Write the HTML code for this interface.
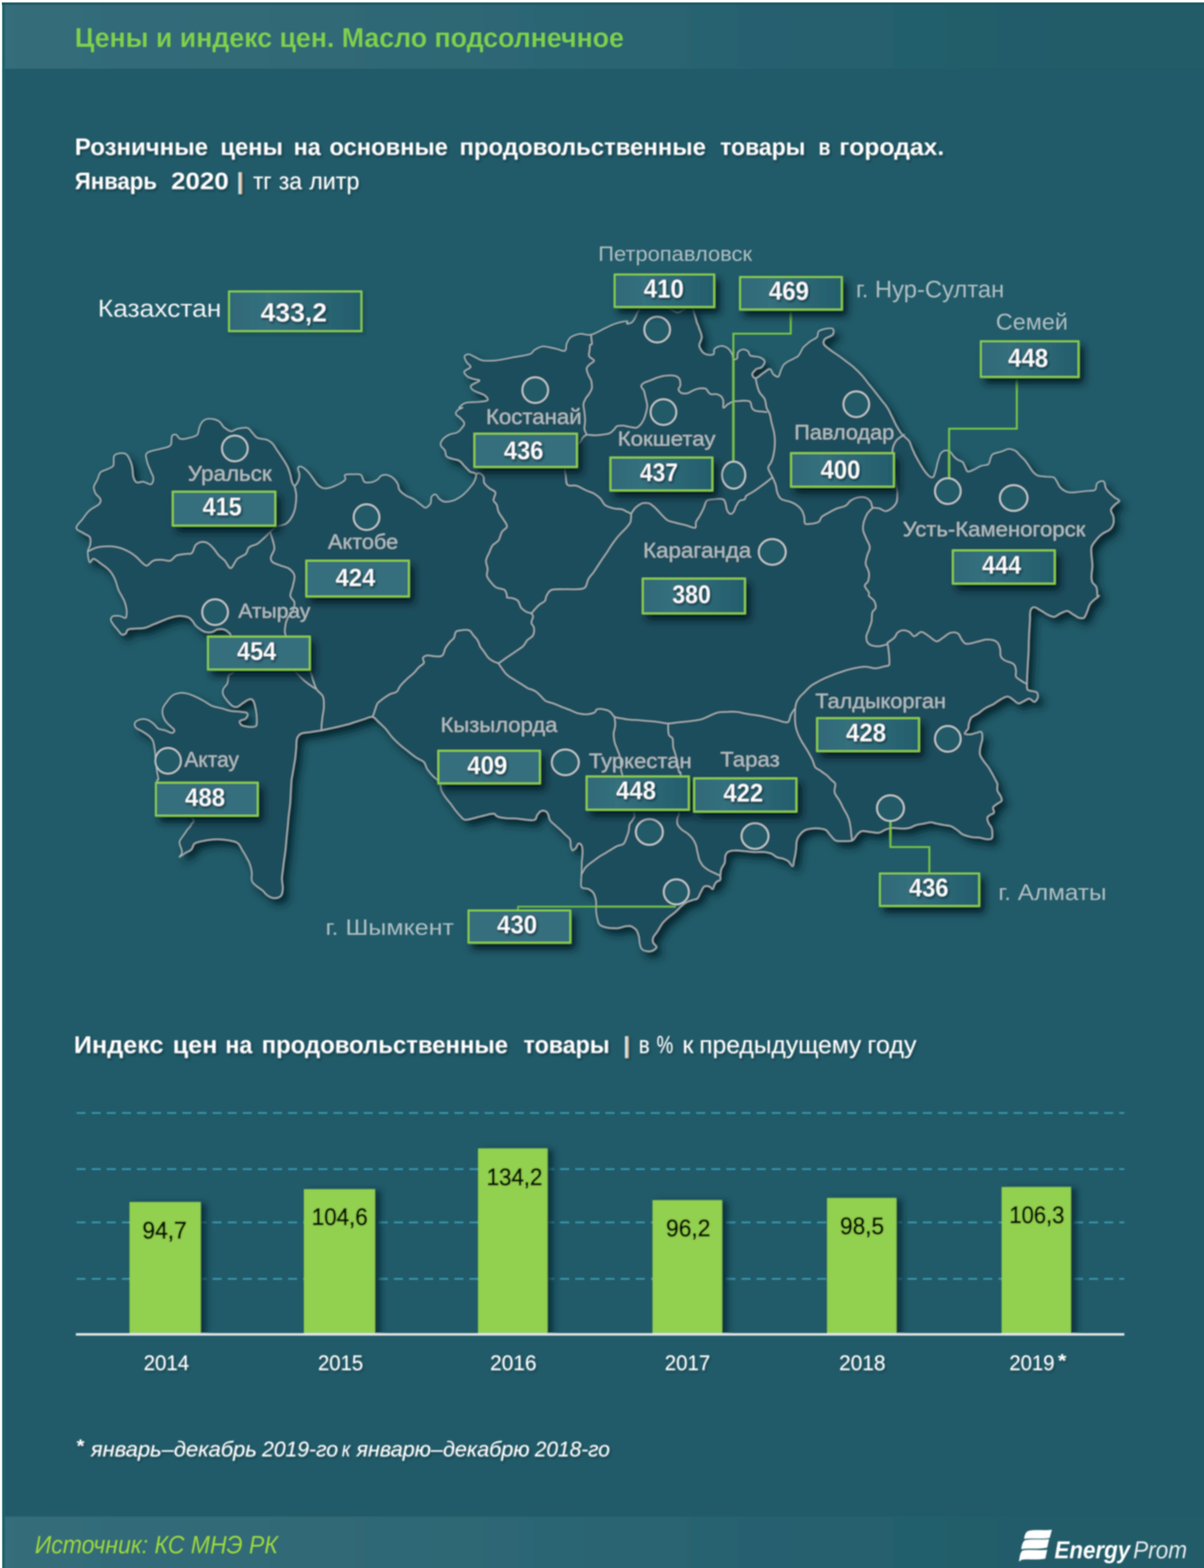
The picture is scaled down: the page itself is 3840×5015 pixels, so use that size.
<!DOCTYPE html>
<html lang="ru"><head><meta charset="utf-8">
<title>Цены и индекс цен. Масло подсолнечное</title>
<style>
html,body{margin:0;padding:0;background:#fff;}
body{width:3840px;height:5015px;overflow:hidden;}
svg{display:block;font-family:"Liberation Sans",sans-serif;}
.lbl{fill:#cfd8da;}
</style></head><body>
<svg width="3840" height="5015" viewBox="0 0 3840 5015">
<defs>
<linearGradient id="band" x1="0" y1="0" x2="1" y2="0">
<stop offset="0" stop-color="#356d7b"/><stop offset="0.35" stop-color="#2f6876"/><stop offset="0.6" stop-color="#286270"/><stop offset="0.9" stop-color="#215b69"/><stop offset="1" stop-color="#215b69"/>
</linearGradient>
<linearGradient id="boxg" x1="0" y1="0" x2="1" y2="0">
<stop offset="0" stop-color="#2f6a78"/><stop offset="0.3" stop-color="#346f7d"/><stop offset="1" stop-color="#235e6c"/>
</linearGradient>
<linearGradient id="bar2" x1="0" y1="0" x2="1" y2="0"><stop offset="0" stop-color="#a8dcf0"/><stop offset="0.5" stop-color="#e8e0d8"/><stop offset="1" stop-color="#d39a66"/></linearGradient>
<linearGradient id="edgeT" x1="0" y1="0" x2="0" y2="1">
<stop offset="0" stop-color="#fff"/><stop offset="0.28" stop-color="#fff"/><stop offset="0.5" stop-color="#1a5560" stop-opacity="0.9"/><stop offset="0.68" stop-color="#1a5560" stop-opacity="0.8"/><stop offset="0.9" stop-color="#1a5560" stop-opacity="0"/>
</linearGradient>
<linearGradient id="edgeL" x1="0" y1="0" x2="1" y2="0">
<stop offset="0" stop-color="#fff"/><stop offset="0.25" stop-color="#fff"/><stop offset="0.45" stop-color="#1c636b" stop-opacity="0.9"/><stop offset="0.7" stop-color="#1c636b" stop-opacity="0.85"/><stop offset="0.9" stop-color="#1c636b" stop-opacity="0"/>
</linearGradient>
<radialGradient id="bgg" cx="0.5" cy="0.45" r="0.6">
<stop offset="0" stop-color="#235f6e"/><stop offset="1" stop-color="#215b69"/>
</radialGradient>
<filter id="mapsh" x="-5%" y="-5%" width="112%" height="112%">
<feGaussianBlur in="SourceAlpha" stdDeviation="13"/><feOffset dx="16" dy="18" result="o"/>
<feFlood flood-color="#082029" flood-opacity="0.9"/><feComposite in2="o" operator="in"/>
<feMerge><feMergeNode/><feMergeNode in="SourceGraphic"/></feMerge>
</filter>
<filter id="boxsh" x="-15%" y="-40%" width="140%" height="220%">
<feGaussianBlur in="SourceAlpha" stdDeviation="12"/><feOffset dx="14" dy="18" result="o"/>
<feFlood flood-color="#061a24" flood-opacity="0.95"/><feComposite in2="o" operator="in"/>
<feMerge><feMergeNode/><feMergeNode in="SourceGraphic"/></feMerge>
</filter>
<filter id="boxsh0" x="-10%" y="-20%" width="125%" height="160%">
<feGaussianBlur in="SourceAlpha" stdDeviation="6"/><feOffset dx="5" dy="6" result="o"/>
<feFlood flood-color="#0a2530" flood-opacity="0.45"/><feComposite in2="o" operator="in"/>
<feMerge><feMergeNode/><feMergeNode in="SourceGraphic"/></feMerge>
</filter>
<filter id="barsh" x="-10%" y="-5%" width="140%" height="110%">
<feGaussianBlur in="SourceAlpha" stdDeviation="10"/><feOffset dx="18" dy="4" result="o"/>
<feFlood flood-color="#0a2530" flood-opacity="0.75"/><feComposite in2="o" operator="in"/>
<feMerge><feMergeNode/><feMergeNode in="SourceGraphic"/></feMerge>
</filter>
<filter id="txsh" x="-5%" y="-30%" width="110%" height="170%">
<feGaussianBlur in="SourceAlpha" stdDeviation="3"/><feOffset dx="4" dy="5" result="o"/>
<feFlood flood-color="#0a2530" flood-opacity="0.6"/><feComposite in2="o" operator="in"/>
<feMerge><feMergeNode/><feMergeNode in="SourceGraphic"/></feMerge>
</filter>
<clipPath id="barclip"><rect x="0" y="3400" width="3840" height="856"/></clipPath>
<filter id="soft" x="-3%" y="-3%" width="106%" height="106%"><feGaussianBlur stdDeviation="2.1"/></filter>
</defs>

<rect x="0" y="0" width="3840" height="5015" fill="#215b69"/>
<rect x="-20" y="-20" width="3880" height="239" fill="url(#band)" filter="url(#soft)"/>
<rect x="-20" y="4836" width="3880" height="199" fill="url(#band)" filter="url(#soft)"/>
<rect x="0" y="6" width="20" height="5015" fill="url(#edgeL)"/>
<rect x="6" y="0" width="3840" height="20" fill="url(#edgeT)"/>
<rect x="0" y="0" width="7" height="7" fill="#fff"/>
<g id="head" filter="url(#soft)">
<text transform="translate(238.6 150.0) scale(0.9705 1)" font-size="87.85" fill="#80d24a" stroke="#316a78" stroke-width="0.8" stroke-linejoin="round" font-weight="bold">Цены и индекс цен. Масло подсолнечное</text>
<g filter="url(#txsh)">
<text transform="translate(238.6 494.0) scale(1.0042 1)" font-size="76.22" fill="#fff" stroke="#215b69" stroke-width="0.8" stroke-linejoin="round" font-weight="bold">Розничные</text>
<text transform="translate(702.6 494.0) scale(0.9967 1)" font-size="76.22" fill="#fff" stroke="#215b69" stroke-width="0.8" stroke-linejoin="round" font-weight="bold">цены</text>
<text transform="translate(936.6 494.0) scale(0.9754 1)" font-size="76.22" fill="#fff" stroke="#215b69" stroke-width="0.8" stroke-linejoin="round" font-weight="bold">на</text>
<text transform="translate(1050.6 494.0) scale(0.9919 1)" font-size="76.22" fill="#fff" stroke="#215b69" stroke-width="0.8" stroke-linejoin="round" font-weight="bold">основные</text>
<text transform="translate(1465.6 494.0) scale(0.9993 1)" font-size="76.22" fill="#fff" stroke="#215b69" stroke-width="0.8" stroke-linejoin="round" font-weight="bold">продовольственные</text>
<text transform="translate(2296.6 494.0) scale(0.9612 1)" font-size="76.22" fill="#fff" stroke="#215b69" stroke-width="0.8" stroke-linejoin="round" font-weight="bold">товары</text>
<text transform="translate(2610.6 494.0) scale(0.8064 1)" font-size="76.22" fill="#fff" stroke="#215b69" stroke-width="0.8" stroke-linejoin="round" font-weight="bold">в</text>
<text transform="translate(2676.6 494.0) scale(1.0342 1)" font-size="76.22" fill="#fff" stroke="#215b69" stroke-width="0.8" stroke-linejoin="round" font-weight="bold">городах.</text>
<text transform="translate(238.6 603.0) scale(0.9271 1)" font-size="76.22" fill="#fff" stroke="#215b69" stroke-width="0.8" stroke-linejoin="round" font-weight="bold">Январь</text>
<text transform="translate(545.6 603.0) scale(1.0838 1)" font-size="76.22" fill="#fff" stroke="#215b69" stroke-width="0.8" stroke-linejoin="round" font-weight="bold">2020</text>
<rect x="760" y="549" width="12" height="70" fill="url(#bar2)"/>
<text transform="translate(807.0 603.0) scale(0.9484 1)" font-size="75.64" fill="#fff">тг</text>
<text transform="translate(889.0 603.0) scale(0.9639 1)" font-size="75.64" fill="#fff">за</text>
<text transform="translate(986.0 603.0) scale(0.9805 1)" font-size="75.64" fill="#fff">литр</text>
</g>
</g>
<g id="mapall" filter="url(#soft)">
<g id="map">
<path d="M243 1683C243 1675 257 1663 264 1654C271 1644 277 1634 286 1627C294 1619 309 1614 315 1608C321 1602 322 1598 320 1592C319 1586 308 1580 304 1573C301 1566 298 1559 299 1552C300 1545 306 1538 310 1530C313 1523 315 1512 320 1506C326 1500 335 1499 342 1496C349 1492 357 1491 361 1485C364 1478 361 1462 363 1455C366 1449 371 1447 377 1446C383 1444 395 1444 401 1447C407 1451 411 1458 414 1466C418 1474 421 1484 422 1493C424 1502 423 1512 425 1520C427 1527 430 1536 436 1538C441 1541 450 1535 457 1536C465 1537 476 1546 481 1544C487 1542 489 1532 489 1525C489 1518 484 1512 481 1504C478 1496 473 1486 470 1477C468 1468 464 1456 465 1450C467 1444 471 1442 479 1439C486 1436 500 1434 511 1431C521 1428 537 1427 543 1420C549 1414 545 1397 548 1391C551 1385 557 1384 562 1386C566 1387 568 1397 575 1399C582 1401 593 1399 602 1396C611 1394 623 1392 629 1386C634 1379 633 1366 637 1359C640 1351 644 1344 650 1340C656 1336 663 1334 671 1335C679 1335 691 1338 698 1343C705 1347 708 1356 714 1362C721 1367 729 1374 736 1375C743 1376 748 1369 757 1367C766 1365 781 1362 789 1364C797 1367 800 1375 805 1380C811 1386 814 1393 821 1396C829 1400 843 1399 851 1402C859 1405 864 1409 870 1415C875 1421 880 1431 886 1439C892 1448 899 1458 904 1466C910 1475 914 1482 918 1490C921 1498 924 1507 926 1514C928 1522 929 1530 931 1536C933 1542 936 1549 939 1549C942 1549 947 1542 950 1536C953 1530 955 1521 955 1514C955 1507 949 1497 950 1493C951 1488 955 1486 961 1488C966 1489 976 1497 982 1504C988 1510 993 1518 998 1525C1004 1532 1008 1541 1014 1546C1021 1552 1027 1557 1036 1557C1045 1558 1057 1554 1068 1549C1079 1545 1095 1536 1100 1530C1105 1525 1096 1517 1100 1514C1104 1511 1118 1512 1127 1512C1135 1512 1145 1510 1151 1514C1157 1518 1157 1532 1162 1536C1167 1540 1174 1539 1180 1538C1187 1538 1196 1534 1202 1530C1208 1527 1210 1520 1215 1517C1221 1514 1227 1513 1234 1514C1241 1516 1250 1520 1255 1525C1261 1530 1266 1538 1269 1544C1272 1550 1270 1557 1274 1562C1278 1568 1285 1574 1293 1579C1300 1584 1312 1587 1320 1592C1328 1597 1335 1604 1341 1608C1347 1612 1352 1619 1357 1619C1362 1618 1370 1611 1373 1605C1376 1600 1373 1589 1376 1584C1379 1579 1385 1575 1389 1576C1394 1577 1397 1588 1403 1592C1408 1596 1414 1600 1421 1600C1429 1600 1439 1598 1448 1595C1457 1591 1467 1585 1475 1579C1483 1572 1493 1562 1499 1554C1505 1547 1509 1543 1512 1536C1516 1529 1520 1517 1518 1512C1516 1506 1505 1508 1499 1504C1493 1499 1486 1491 1480 1485C1475 1479 1471 1472 1464 1469C1458 1465 1450 1466 1443 1463C1436 1461 1428 1460 1424 1455C1420 1451 1422 1442 1419 1437C1416 1431 1407 1426 1405 1420C1404 1415 1406 1408 1411 1402C1415 1396 1424 1390 1432 1386C1440 1382 1452 1382 1459 1378C1466 1374 1471 1367 1475 1362C1479 1357 1482 1353 1480 1348C1479 1343 1471 1337 1467 1332C1463 1328 1455 1325 1454 1321C1452 1317 1455 1312 1459 1308C1462 1304 1474 1301 1475 1300C1476 1299 1463 1303 1464 1300C1466 1297 1475 1287 1486 1284C1496 1281 1517 1283 1529 1281C1540 1280 1553 1279 1555 1276C1558 1272 1552 1265 1545 1260C1537 1255 1520 1251 1512 1246C1505 1242 1499 1236 1502 1230C1504 1225 1527 1218 1529 1214C1530 1211 1519 1211 1512 1209C1506 1207 1496 1205 1491 1201C1486 1197 1479 1190 1480 1185C1482 1180 1499 1175 1501 1170C1502 1166 1492 1161 1488 1155C1485 1150 1480 1141 1481 1137C1482 1132 1489 1129 1494 1129C1499 1129 1505 1133 1512 1137C1520 1140 1528 1147 1539 1149C1551 1151 1566 1150 1582 1149C1598 1147 1618 1143 1636 1139C1654 1136 1678 1133 1689 1129C1701 1125 1698 1119 1705 1115C1713 1111 1720 1105 1732 1104C1744 1104 1763 1110 1775 1112C1787 1115 1796 1121 1802 1118C1807 1115 1804 1104 1807 1096C1810 1089 1813 1080 1820 1075C1828 1070 1839 1066 1850 1064C1861 1063 1871 1070 1885 1067C1898 1064 1917 1052 1930 1046C1944 1039 1956 1033 1968 1030C1980 1026 1995 1024 2000 1024C2005 1025 1997 1032 2000 1032C2003 1033 2012 1030 2016 1027C2021 1023 2023 1017 2027 1011C2030 1004 2033 995 2038 989C2042 984 2042 979 2054 976C2065 973 2094 969 2107 970C2120 972 2125 979 2134 984C2143 988 2153 997 2161 997C2169 998 2176 990 2182 987C2188 983 2194 976 2198 976C2203 975 2206 980 2209 984C2212 988 2212 993 2214 1000C2217 1007 2220 1019 2222 1027C2225 1035 2228 1040 2230 1048C2233 1056 2238 1066 2238 1075C2238 1084 2230 1094 2230 1102C2231 1110 2237 1118 2241 1123C2246 1128 2251 1130 2257 1131C2263 1132 2272 1132 2276 1129C2279 1125 2275 1117 2279 1112C2283 1108 2293 1103 2300 1103C2307 1102 2316 1106 2321 1110C2327 1114 2332 1123 2335 1129C2338 1134 2336 1142 2339 1145C2342 1147 2348 1146 2351 1142C2353 1138 2350 1128 2354 1123C2357 1118 2364 1114 2370 1114C2375 1113 2382 1117 2386 1120C2390 1124 2388 1131 2394 1134C2400 1137 2416 1136 2423 1139C2431 1142 2438 1147 2439 1153C2440 1158 2433 1167 2429 1171C2424 1175 2417 1173 2412 1177C2408 1180 2400 1188 2399 1193C2399 1198 2404 1207 2410 1206C2416 1206 2426 1195 2434 1190C2442 1185 2450 1176 2455 1177C2461 1177 2462 1189 2466 1193C2471 1197 2478 1203 2482 1201C2486 1199 2487 1189 2490 1182C2493 1175 2495 1167 2501 1161C2507 1154 2520 1149 2528 1145C2535 1140 2541 1140 2546 1134C2552 1128 2556 1115 2562 1107C2569 1100 2577 1094 2584 1088C2591 1083 2601 1080 2605 1075C2610 1070 2606 1061 2611 1056C2615 1052 2625 1050 2632 1048C2640 1047 2652 1045 2656 1048C2660 1051 2660 1062 2656 1067C2652 1072 2637 1076 2632 1080C2627 1085 2625 1091 2627 1096C2629 1102 2636 1107 2643 1112C2650 1118 2661 1125 2670 1131C2679 1137 2687 1143 2696 1150C2705 1157 2714 1163 2723 1171C2732 1179 2742 1189 2750 1198C2758 1207 2764 1216 2771 1225C2779 1234 2786 1243 2793 1252C2800 1261 2808 1271 2814 1279C2821 1287 2826 1293 2830 1300C2835 1307 2837 1312 2841 1321C2846 1330 2852 1344 2857 1354C2862 1363 2868 1373 2873 1380C2879 1388 2885 1392 2889 1396C2894 1401 2896 1401 2900 1407C2904 1413 2906 1424 2911 1434C2915 1444 2921 1456 2927 1466C2932 1476 2938 1485 2943 1493C2948 1501 2954 1509 2959 1514C2964 1519 2971 1524 2975 1522C2979 1521 2980 1512 2983 1504C2986 1495 2988 1481 2991 1471C2994 1462 2996 1453 2999 1447C3003 1442 3008 1438 3012 1437C3017 1435 3024 1436 3029 1439C3034 1442 3038 1451 3042 1455C3046 1460 3050 1463 3055 1466C3060 1469 3067 1470 3071 1474C3075 1479 3077 1488 3080 1493C3082 1498 3083 1503 3088 1504C3092 1504 3102 1499 3109 1496C3116 1492 3123 1487 3130 1485C3138 1482 3147 1484 3152 1480C3157 1475 3157 1463 3160 1458C3162 1453 3162 1450 3168 1447C3174 1444 3187 1442 3195 1439C3203 1437 3209 1432 3216 1431C3223 1431 3231 1433 3238 1437C3244 1440 3248 1447 3254 1453C3259 1458 3265 1463 3270 1469C3274 1475 3279 1481 3283 1488C3287 1494 3291 1501 3296 1506C3301 1511 3305 1515 3312 1517C3320 1519 3331 1519 3339 1520C3347 1520 3355 1520 3361 1522C3366 1525 3368 1531 3371 1536C3375 1541 3375 1547 3380 1552C3384 1557 3390 1562 3396 1565C3401 1568 3407 1570 3414 1570C3422 1571 3432 1569 3441 1568C3450 1567 3459 1566 3468 1565C3476 1564 3487 1566 3492 1562C3497 1559 3495 1548 3497 1544C3500 1539 3504 1536 3508 1535C3512 1533 3518 1532 3521 1536C3525 1539 3524 1551 3527 1557C3530 1563 3535 1568 3540 1573C3545 1578 3551 1583 3556 1587C3561 1591 3570 1593 3570 1597C3569 1601 3558 1606 3554 1611C3549 1616 3543 1621 3543 1627C3542 1633 3550 1641 3551 1648C3552 1655 3553 1663 3551 1670C3549 1676 3546 1683 3540 1688C3534 1694 3524 1696 3516 1702C3508 1708 3500 1716 3495 1723C3489 1730 3483 1737 3481 1745C3479 1753 3481 1762 3481 1771C3482 1781 3484 1793 3484 1804C3484 1814 3481 1827 3481 1836C3481 1845 3481 1851 3484 1857C3487 1863 3495 1866 3497 1873C3500 1880 3499 1896 3500 1900C3501 1904 3507 1898 3505 1900C3504 1902 3494 1909 3489 1913C3484 1918 3479 1921 3476 1927C3472 1933 3471 1941 3468 1948C3465 1955 3462 1966 3457 1970C3453 1973 3447 1971 3441 1970C3435 1968 3429 1962 3422 1959C3416 1955 3410 1949 3404 1948C3397 1948 3389 1953 3382 1956C3375 1959 3368 1967 3361 1967C3354 1967 3346 1962 3339 1959C3332 1955 3325 1949 3318 1946C3311 1942 3304 1936 3299 1936C3294 1936 3289 1939 3287 1946C3284 1952 3285 1965 3285 1975C3284 1985 3284 1996 3283 2007C3282 2019 3282 2032 3281 2045C3281 2057 3281 2070 3280 2082C3280 2095 3278 2108 3278 2120C3277 2131 3277 2141 3276 2152C3276 2163 3275 2176 3275 2184C3275 2192 3275 2197 3278 2200C3281 2203 3289 2203 3294 2204C3299 2206 3304 2205 3307 2208C3310 2211 3311 2219 3310 2224C3308 2229 3304 2237 3299 2238C3295 2238 3288 2228 3283 2228C3278 2227 3273 2232 3267 2235C3261 2237 3254 2244 3248 2243C3242 2242 3235 2233 3230 2230C3224 2226 3220 2221 3213 2221C3207 2221 3200 2225 3192 2230C3184 2234 3176 2241 3168 2246C3159 2250 3149 2254 3141 2259C3133 2264 3127 2270 3120 2275C3112 2280 3103 2283 3098 2288C3093 2294 3092 2301 3090 2307C3088 2313 3090 2318 3088 2323C3085 2329 3076 2336 3077 2339C3078 2342 3087 2342 3093 2342C3099 2342 3108 2338 3114 2337C3121 2335 3127 2331 3130 2334C3134 2337 3133 2348 3133 2355C3133 2363 3129 2369 3128 2377C3126 2385 3124 2396 3125 2404C3126 2412 3131 2418 3136 2425C3140 2432 3147 2439 3152 2446C3157 2454 3161 2461 3165 2468C3169 2475 3173 2484 3176 2489C3179 2495 3180 2495 3181 2500C3182 2505 3179 2515 3181 2521C3183 2528 3190 2535 3192 2540C3194 2546 3196 2550 3194 2554C3191 2558 3183 2561 3179 2564C3174 2568 3168 2571 3167 2575C3165 2579 3172 2587 3170 2591C3169 2595 3161 2596 3157 2599C3154 2602 3150 2603 3149 2607C3148 2611 3150 2618 3152 2623C3154 2629 3160 2634 3162 2639C3165 2645 3165 2652 3165 2658C3165 2664 3166 2671 3162 2674C3159 2677 3153 2676 3146 2676C3140 2675 3133 2673 3125 2671C3117 2670 3107 2671 3098 2669C3089 2667 3079 2665 3071 2661C3063 2657 3057 2649 3050 2645C3043 2640 3038 2636 3031 2634C3024 2632 3015 2632 3007 2630C3000 2629 2992 2627 2986 2626C2979 2625 2976 2622 2970 2622C2963 2622 2956 2624 2948 2626C2940 2627 2929 2629 2921 2631C2913 2634 2907 2639 2900 2640C2893 2642 2888 2642 2879 2642C2870 2642 2855 2640 2846 2640C2837 2641 2832 2642 2825 2645C2818 2647 2812 2654 2804 2655C2796 2657 2786 2654 2777 2653C2768 2652 2757 2649 2750 2650C2743 2651 2739 2656 2734 2661C2729 2666 2726 2676 2718 2680C2710 2683 2695 2682 2686 2682C2677 2682 2671 2683 2664 2680C2658 2676 2653 2669 2648 2663C2643 2658 2640 2651 2635 2647C2629 2644 2624 2643 2616 2642C2609 2641 2597 2641 2589 2642C2581 2643 2574 2644 2568 2647C2562 2650 2556 2655 2552 2661C2547 2666 2543 2673 2541 2682C2539 2691 2540 2704 2538 2714C2537 2724 2535 2733 2533 2741C2531 2749 2531 2762 2528 2762C2525 2763 2519 2750 2514 2746C2509 2742 2504 2741 2498 2738C2492 2736 2483 2736 2477 2733C2471 2730 2467 2725 2461 2722C2454 2720 2448 2718 2439 2717C2430 2716 2418 2717 2407 2717C2396 2717 2386 2715 2375 2714C2364 2713 2352 2711 2343 2712C2334 2712 2326 2714 2321 2717C2316 2720 2315 2725 2313 2730C2312 2736 2313 2745 2311 2752C2308 2759 2302 2766 2300 2773C2298 2780 2298 2787 2297 2792C2297 2797 2299 2802 2297 2805C2296 2809 2290 2808 2287 2811C2283 2813 2281 2817 2279 2821C2276 2825 2276 2834 2273 2835C2271 2836 2267 2828 2262 2827C2258 2825 2251 2824 2246 2827C2242 2829 2239 2837 2236 2843C2232 2849 2229 2860 2225 2864C2221 2869 2215 2867 2209 2870C2203 2872 2194 2874 2188 2878C2181 2881 2177 2886 2171 2891C2166 2896 2162 2901 2155 2907C2149 2913 2138 2920 2131 2926C2124 2932 2118 2937 2112 2945C2107 2952 2101 2964 2096 2971C2091 2979 2085 2984 2083 2990C2081 2996 2081 3001 2083 3006C2085 3011 2094 3015 2094 3020C2093 3024 2086 3030 2080 3032C2075 3034 2067 3034 2062 3033C2056 3032 2049 3029 2046 3025C2042 3021 2042 3015 2040 3009C2039 3003 2039 2995 2038 2988C2036 2980 2033 2971 2030 2966C2026 2961 2021 2958 2016 2955C2011 2953 2008 2952 2000 2953C1992 2953 1979 2959 1968 2960C1957 2960 1945 2960 1936 2958C1927 2956 1919 2954 1914 2950C1909 2946 1908 2941 1906 2934C1904 2927 1902 2917 1901 2907C1900 2897 1902 2885 1901 2875C1900 2865 1897 2855 1893 2848C1889 2842 1883 2838 1877 2835C1871 2832 1859 2834 1855 2830C1851 2825 1853 2817 1853 2811C1853 2804 1854 2799 1854 2789C1855 2779 1855 2763 1855 2752C1856 2740 1858 2729 1858 2720C1858 2710 1858 2700 1855 2696C1853 2691 1848 2689 1845 2690C1841 2692 1840 2700 1837 2704C1833 2707 1829 2712 1826 2712C1823 2711 1822 2704 1820 2698C1819 2692 1821 2683 1818 2677C1815 2671 1807 2666 1802 2661C1796 2655 1791 2650 1786 2645C1780 2640 1775 2636 1770 2631C1764 2626 1757 2621 1754 2615C1750 2609 1751 2601 1748 2596C1746 2591 1742 2587 1738 2586C1733 2584 1728 2585 1724 2587C1720 2589 1717 2595 1713 2599C1710 2604 1711 2612 1705 2614C1700 2617 1688 2615 1679 2614C1669 2613 1657 2611 1646 2610C1636 2609 1624 2610 1614 2609C1604 2608 1594 2607 1588 2604C1581 2602 1581 2597 1577 2595C1572 2594 1568 2595 1561 2596C1554 2598 1543 2601 1534 2603C1525 2605 1516 2608 1507 2610C1499 2612 1489 2615 1483 2614C1477 2613 1474 2609 1470 2604C1465 2600 1459 2592 1454 2586C1448 2579 1443 2571 1438 2564C1432 2557 1426 2550 1421 2543C1416 2536 1411 2528 1408 2521C1405 2515 1407 2508 1404 2503C1402 2497 1399 2492 1395 2487C1390 2482 1384 2479 1379 2473C1373 2467 1367 2459 1362 2452C1358 2445 1358 2437 1352 2430C1346 2424 1334 2421 1325 2414C1316 2408 1307 2400 1298 2393C1289 2386 1279 2379 1271 2371C1263 2364 1257 2358 1250 2350C1243 2342 1236 2331 1229 2323C1221 2315 1214 2308 1207 2302C1200 2296 1196 2287 1188 2286C1180 2284 1169 2291 1159 2294C1149 2297 1137 2301 1127 2304C1117 2308 1117 2308 1100 2312C1083 2317 1043 2325 1025 2329C1007 2332 1004 2332 993 2334C982 2336 968 2336 961 2339C953 2343 950 2348 947 2355C945 2363 945 2372 945 2382C944 2392 943 2404 942 2414C941 2425 938 2436 937 2446C935 2457 933 2470 931 2479C930 2488 929 2488 929 2500C928 2512 927 2536 926 2554C925 2571 922 2589 920 2607C919 2625 917 2643 915 2661C913 2679 912 2698 910 2714C908 2730 906 2743 904 2757C903 2771 900 2788 899 2800C899 2812 902 2823 902 2832C901 2841 901 2851 896 2856C892 2862 882 2864 875 2864C868 2864 860 2860 854 2856C847 2852 844 2846 838 2840C831 2835 822 2829 816 2824C810 2819 805 2815 803 2808C800 2801 804 2792 803 2784C802 2775 800 2765 797 2757C795 2749 791 2743 787 2736C783 2728 778 2719 773 2712C769 2704 765 2695 760 2690C754 2685 750 2684 741 2682C733 2680 720 2678 709 2677C698 2676 688 2676 677 2677C666 2678 654 2680 645 2682C635 2684 626 2686 620 2690C615 2695 615 2704 610 2709C605 2714 597 2716 591 2720C585 2724 574 2733 572 2733C571 2733 580 2724 580 2720C581 2715 579 2712 578 2706C576 2700 571 2691 572 2685C573 2678 579 2672 583 2666C587 2660 592 2654 596 2647C601 2641 608 2636 610 2629C612 2621 627 2626 610 2604C593 2583 525 2520 508 2500C491 2480 507 2491 505 2484C504 2477 501 2466 500 2457C499 2448 498 2437 497 2428C496 2419 495 2411 495 2404C494 2396 493 2389 492 2382C491 2375 490 2367 487 2361C483 2354 479 2350 473 2345C467 2340 458 2335 452 2331C445 2327 437 2325 433 2320C429 2316 428 2309 430 2304C433 2300 440 2296 446 2294C453 2292 461 2292 468 2294C475 2296 483 2302 489 2307C496 2312 499 2320 505 2323C512 2327 520 2326 527 2329C534 2331 543 2337 548 2337C553 2337 557 2332 556 2329C556 2325 550 2322 546 2318C541 2313 534 2308 530 2302C525 2296 521 2288 519 2280C517 2273 517 2266 519 2259C521 2252 527 2244 532 2238C537 2231 542 2223 548 2219C554 2214 562 2211 570 2210C578 2208 587 2209 596 2211C605 2213 614 2217 623 2221C632 2225 641 2230 650 2235C659 2240 667 2247 677 2251C687 2255 699 2256 709 2259C719 2262 726 2265 736 2267C746 2269 759 2268 768 2270C777 2271 787 2271 789 2275C792 2279 788 2287 784 2291C780 2295 767 2296 765 2299C763 2303 766 2309 770 2312C775 2316 787 2317 795 2318C802 2318 812 2319 816 2315C820 2312 819 2305 819 2296C819 2288 818 2275 816 2264C814 2254 812 2241 808 2235C804 2229 800 2228 795 2230C789 2231 779 2239 773 2243C767 2247 762 2252 757 2254C752 2255 746 2254 741 2251C736 2248 730 2241 725 2235C720 2229 714 2222 712 2216C709 2210 709 2204 712 2197C714 2191 722 2186 725 2179C728 2171 727 2161 730 2154C734 2148 745 2150 746 2138C748 2126 743 2100 741 2082C739 2064 737 2039 736 2029C734 2018 734 2021 730 2018C727 2014 721 2009 714 2007C708 2005 699 2006 693 2007C687 2008 683 2014 677 2015C671 2017 662 2017 655 2015C649 2014 645 2011 639 2007C634 2004 628 1999 623 1994C619 1989 617 1982 612 1978C608 1973 604 1969 596 1967C589 1965 579 1964 570 1964C561 1965 552 1967 543 1970C534 1972 525 1977 516 1980C507 1984 498 1988 489 1991C480 1995 471 2000 462 2002C454 2004 445 2004 436 2004C427 2005 415 2004 409 2007C403 2010 404 2018 401 2020C397 2023 392 2025 388 2023C383 2021 379 2012 374 2007C370 2002 364 1996 361 1991C357 1986 353 1979 353 1975C353 1971 356 1966 361 1964C366 1963 375 1963 382 1964C389 1965 397 1972 401 1970C404 1967 404 1956 404 1948C403 1940 401 1929 398 1921C396 1913 391 1907 388 1900C384 1893 380 1888 377 1879C373 1870 371 1856 366 1846C362 1837 357 1828 350 1820C343 1812 332 1804 323 1798C315 1792 305 1783 299 1782C293 1781 289 1795 286 1793C283 1791 281 1778 280 1771C280 1765 279 1762 280 1755C282 1749 288 1741 288 1734C289 1727 290 1718 286 1712C282 1707 271 1704 264 1699C257 1694 243 1691 243 1683Z" fill="#1c4e5c" stroke="#b3bcbe" stroke-width="3.7" stroke-linejoin="round" filter="url(#mapsh)"/>
<path d="M280 1758C286 1756 301 1747 312 1745C324 1742 338 1742 350 1742C362 1742 371 1744 382 1747C393 1750 405 1756 414 1761C423 1766 429 1771 436 1777C442 1782 446 1788 452 1793C457 1797 462 1804 468 1804C474 1803 481 1791 489 1788C497 1784 507 1785 516 1785C525 1785 535 1790 543 1788C551 1785 555 1775 564 1771C573 1768 588 1767 596 1766C604 1765 608 1768 612 1763C617 1759 619 1745 623 1739C628 1734 633 1730 639 1729C646 1727 654 1728 661 1731C668 1735 676 1743 682 1750C688 1757 692 1765 698 1771C704 1778 711 1781 717 1788C723 1794 729 1812 736 1812C742 1811 749 1790 757 1782C765 1775 778 1772 784 1766C790 1760 788 1750 795 1745C801 1739 813 1739 821 1734C829 1729 836 1721 843 1715C850 1709 858 1700 862 1696 M939 1549C940 1554 944 1567 945 1579C945 1590 944 1604 942 1616C940 1628 936 1639 931 1648C926 1657 921 1664 912 1670C904 1675 889 1676 880 1680C872 1685 865 1694 862 1696 M862 1696C863 1701 867 1714 870 1723C872 1732 876 1741 875 1750C874 1759 865 1770 864 1777C863 1784 864 1788 870 1793C875 1797 887 1800 896 1804C905 1807 916 1809 923 1814C930 1820 938 1827 939 1836C941 1845 936 1857 934 1868C932 1879 925 1891 926 1900C927 1909 938 1913 939 1921C941 1929 937 1940 934 1948C930 1956 922 1962 918 1970C914 1978 911 1987 910 1996C909 2006 906 2014 912 2029C919 2043 938 2064 950 2082C962 2100 979 2124 988 2138C996 2153 995 2158 998 2168C1002 2178 1004 2188 1009 2197C1014 2206 1026 2212 1030 2221C1034 2231 1033 2242 1033 2254C1033 2265 1029 2279 1028 2291C1026 2304 1025 2322 1025 2329 M939 2138C943 2142 953 2155 961 2162C969 2170 979 2178 988 2184C996 2190 1005 2195 1009 2197 M1518 1512C1520 1511 1525 1508 1529 1509C1533 1510 1539 1514 1542 1520C1545 1525 1541 1535 1545 1541C1548 1547 1555 1552 1561 1557C1567 1562 1577 1564 1580 1570C1582 1577 1573 1588 1574 1595C1575 1601 1582 1604 1585 1611C1587 1617 1587 1625 1590 1632C1593 1639 1599 1646 1604 1654C1608 1661 1617 1671 1617 1678C1617 1685 1605 1689 1601 1696C1596 1704 1595 1716 1590 1723C1585 1730 1576 1733 1571 1739C1566 1746 1564 1753 1561 1761C1557 1769 1551 1779 1550 1788C1549 1796 1555 1806 1555 1814C1556 1822 1551 1829 1553 1836C1554 1843 1561 1851 1566 1857C1571 1863 1575 1869 1582 1873C1589 1877 1603 1877 1609 1881C1615 1886 1616 1896 1617 1900C1618 1904 1614 1904 1617 1905C1620 1907 1630 1906 1636 1908C1642 1910 1647 1911 1652 1916C1656 1921 1658 1932 1662 1938C1667 1943 1673 1948 1679 1951C1684 1954 1691 1954 1695 1956C1698 1959 1700 1962 1700 1967C1700 1972 1694 1980 1695 1986C1695 1992 1702 1995 1703 2002C1704 2008 1704 2019 1700 2026C1696 2033 1687 2036 1681 2042C1676 2048 1675 2054 1668 2061C1661 2067 1650 2073 1641 2080C1632 2086 1623 2092 1614 2098C1606 2104 1594 2113 1590 2115 M2013 1638C2013 1642 2013 1657 2011 1664C2008 1671 2005 1674 2000 1680C1995 1687 1986 1694 1979 1702C1971 1710 1964 1719 1957 1729C1950 1738 1943 1750 1936 1761C1929 1771 1921 1782 1914 1793C1907 1804 1899 1816 1893 1825C1887 1834 1881 1838 1877 1846C1872 1854 1872 1868 1866 1873C1860 1879 1851 1878 1839 1879C1828 1880 1810 1878 1796 1879C1783 1879 1768 1878 1759 1881C1750 1885 1746 1894 1743 1900C1739 1906 1742 1911 1738 1916C1733 1921 1723 1925 1716 1932C1709 1939 1698 1952 1695 1956 M1188 2286C1190 2282 1194 2271 1196 2264C1199 2257 1200 2249 1204 2243C1209 2237 1217 2232 1223 2227C1230 2222 1237 2217 1245 2213C1252 2210 1261 2210 1266 2205C1271 2201 1271 2193 1277 2187C1282 2180 1291 2172 1298 2165C1305 2158 1313 2153 1320 2146C1326 2140 1330 2133 1336 2128C1341 2122 1350 2119 1352 2114C1354 2109 1347 2102 1349 2098C1351 2094 1356 2091 1362 2090C1369 2089 1381 2093 1389 2093C1397 2093 1405 2095 1411 2090C1416 2086 1417 2073 1421 2066C1425 2059 1430 2053 1435 2047C1439 2042 1445 2039 1448 2034C1451 2029 1450 2019 1454 2015C1457 2011 1462 2011 1470 2010C1477 2009 1490 2007 1496 2010C1503 2012 1505 2021 1510 2026C1514 2031 1520 2036 1523 2042C1527 2048 1528 2054 1531 2061C1535 2067 1540 2073 1545 2080C1549 2086 1553 2093 1558 2098C1563 2103 1569 2106 1574 2109C1579 2112 1588 2114 1590 2115 M1590 2115C1592 2119 1599 2129 1604 2136C1608 2142 1613 2149 1620 2154C1626 2160 1634 2163 1641 2168C1648 2172 1655 2177 1662 2181C1670 2186 1677 2191 1684 2195C1691 2198 1699 2199 1705 2203C1712 2206 1716 2211 1721 2216C1727 2221 1733 2230 1740 2235C1747 2239 1756 2240 1764 2243C1773 2246 1782 2250 1791 2254C1800 2257 1809 2261 1818 2264C1827 2268 1836 2273 1845 2275C1854 2277 1863 2278 1871 2278C1880 2277 1890 2275 1896 2272C1901 2270 1899 2263 1904 2262C1909 2260 1918 2260 1925 2262C1932 2263 1941 2266 1946 2270C1952 2274 1954 2282 1960 2286C1966 2289 1977 2290 1984 2291C1991 2292 1992 2293 2000 2294C2008 2295 2021 2296 2032 2296C2043 2297 2054 2298 2064 2299C2075 2300 2085 2300 2096 2302C2108 2303 2120 2307 2131 2307C2143 2307 2154 2304 2166 2303C2178 2302 2192 2301 2204 2299C2215 2298 2226 2296 2236 2294C2246 2291 2254 2287 2262 2283C2271 2279 2279 2275 2289 2272C2299 2270 2312 2270 2321 2270C2331 2269 2339 2269 2348 2270C2357 2270 2365 2273 2375 2275C2385 2277 2396 2279 2407 2280C2418 2282 2429 2283 2439 2286C2450 2288 2462 2291 2471 2294C2481 2296 2491 2300 2498 2302C2505 2303 2510 2305 2514 2302C2518 2298 2519 2288 2522 2280C2526 2273 2533 2262 2536 2259 M1960 2286C1960 2290 1963 2304 1962 2312C1962 2321 1958 2330 1957 2339C1957 2348 1958 2357 1960 2366C1962 2375 1967 2384 1970 2393C1974 2402 1977 2411 1979 2420C1980 2429 1980 2438 1981 2446C1982 2454 1977 2444 1984 2468C1991 2492 2016 2564 2021 2588C2027 2612 2021 2606 2019 2612C2017 2619 2010 2622 2008 2629C2006 2635 2007 2644 2005 2650C2004 2656 2003 2659 2000 2666C1997 2673 1995 2685 1989 2690C1984 2696 1976 2694 1968 2698C1960 2702 1950 2709 1941 2714C1932 2720 1923 2725 1914 2730C1905 2736 1896 2743 1888 2749C1879 2755 1872 2761 1866 2768C1861 2775 1856 2786 1854 2789 M2131 2307C2131 2311 2131 2322 2131 2329C2132 2335 2132 2340 2134 2345C2136 2349 2142 2349 2145 2355C2147 2362 2146 2373 2147 2382C2149 2391 2153 2400 2155 2409C2158 2418 2159 2427 2161 2436C2162 2445 2164 2456 2166 2462C2168 2469 2171 2452 2171 2473C2171 2494 2168 2566 2166 2588C2164 2611 2162 2600 2161 2607C2160 2614 2158 2622 2161 2629C2163 2635 2169 2640 2174 2645C2179 2650 2187 2653 2193 2658C2199 2663 2204 2668 2209 2674C2213 2680 2217 2688 2220 2696C2222 2703 2223 2712 2225 2720C2227 2727 2228 2734 2230 2741C2233 2748 2237 2754 2241 2760C2246 2765 2251 2769 2257 2773C2263 2777 2272 2781 2279 2784C2285 2787 2294 2791 2297 2792 M2536 2259C2536 2266 2535 2290 2536 2302C2537 2313 2538 2320 2541 2329C2544 2338 2547 2346 2552 2355C2556 2364 2563 2374 2568 2382C2573 2390 2577 2396 2581 2404C2585 2411 2589 2418 2592 2425C2595 2432 2596 2441 2600 2446C2604 2452 2610 2453 2616 2457C2622 2462 2631 2468 2638 2473C2644 2479 2649 2485 2654 2489C2658 2494 2663 2494 2664 2500C2666 2506 2659 2518 2662 2527C2664 2536 2673 2545 2678 2554C2683 2563 2687 2572 2691 2580C2696 2589 2701 2596 2704 2604C2708 2613 2711 2625 2712 2634C2714 2643 2714 2653 2715 2661C2716 2668 2717 2676 2718 2680 M2536 2259C2537 2255 2538 2244 2541 2238C2544 2231 2547 2227 2552 2221C2556 2216 2563 2211 2568 2205C2573 2200 2578 2194 2584 2189C2590 2184 2597 2180 2605 2176C2613 2171 2622 2167 2632 2162C2642 2158 2654 2153 2664 2149C2675 2145 2686 2142 2696 2138C2707 2135 2718 2132 2729 2130C2739 2128 2750 2126 2761 2126C2771 2126 2783 2132 2793 2131C2803 2131 2812 2127 2820 2125C2827 2123 2833 2125 2836 2120C2838 2114 2836 2102 2836 2093C2835 2084 2834 2073 2833 2066C2832 2059 2831 2053 2830 2050 M2782 1621C2779 1624 2771 1630 2766 1638C2762 1645 2758 1655 2755 1664C2753 1673 2751 1682 2753 1691C2754 1700 2760 1709 2763 1718C2767 1727 2774 1736 2774 1745C2775 1754 2768 1762 2766 1771C2764 1780 2760 1789 2761 1798C2762 1807 2770 1816 2771 1825C2773 1834 2771 1845 2769 1852C2767 1859 2758 1862 2758 1868C2758 1874 2769 1884 2771 1889C2774 1895 2769 1896 2771 1900C2774 1904 2784 1910 2788 1916C2791 1922 2794 1931 2793 1938C2792 1944 2784 1946 2782 1954C2780 1961 2781 1971 2780 1980C2778 1989 2774 1999 2771 2007C2769 2015 2764 2022 2763 2029C2763 2035 2763 2042 2766 2047C2769 2052 2773 2056 2780 2058C2786 2060 2796 2061 2804 2061C2812 2060 2824 2056 2828 2055 M2830 2050C2834 2047 2846 2039 2852 2034C2857 2029 2858 2022 2862 2018C2867 2014 2872 2010 2879 2010C2885 2009 2894 2012 2900 2015C2906 2018 2910 2029 2916 2029C2922 2029 2930 2016 2938 2015C2945 2015 2951 2021 2959 2026C2967 2031 2978 2043 2986 2045C2994 2046 3000 2038 3007 2034C3015 2029 3023 2020 3031 2018C3039 2016 3049 2016 3055 2020C3062 2025 3064 2037 3069 2042C3073 2047 3075 2052 3082 2053C3090 2054 3104 2050 3114 2047C3125 2045 3136 2040 3146 2039C3157 2039 3169 2040 3176 2045C3183 2049 3187 2058 3189 2066C3192 2074 3189 2086 3192 2093C3195 2100 3199 2102 3205 2106C3212 2110 3226 2112 3232 2117C3238 2122 3239 2129 3240 2136C3242 2142 3238 2151 3240 2157C3243 2163 3250 2166 3256 2170C3262 2175 3272 2179 3275 2181 M2410 1206C2411 1210 2413 1223 2415 1230C2417 1238 2419 1245 2423 1252C2427 1259 2436 1265 2439 1273C2443 1281 2442 1292 2445 1300C2447 1308 2453 1313 2455 1321C2458 1329 2458 1338 2461 1348C2463 1358 2467 1369 2469 1380C2471 1392 2472 1405 2471 1418C2471 1430 2468 1446 2466 1455C2464 1465 2461 1471 2458 1477C2455 1483 2449 1486 2450 1493C2451 1500 2459 1511 2463 1520C2467 1529 2471 1537 2474 1546C2477 1555 2476 1566 2480 1573C2483 1581 2486 1588 2493 1592C2500 1596 2512 1597 2520 1600C2528 1603 2535 1606 2541 1611C2547 1615 2553 1621 2557 1627C2561 1633 2563 1641 2565 1648C2567 1655 2564 1666 2568 1670C2572 1673 2582 1670 2589 1670C2596 1669 2605 1668 2611 1664C2616 1661 2616 1653 2621 1648C2627 1643 2635 1639 2643 1635C2651 1630 2661 1625 2670 1621C2679 1618 2689 1617 2696 1613C2704 1609 2706 1602 2712 1597C2719 1593 2726 1588 2734 1587C2742 1585 2754 1584 2761 1587C2768 1589 2773 1595 2777 1600C2780 1605 2781 1616 2782 1619 M2782 1619C2786 1619 2796 1620 2804 1621C2811 1623 2818 1630 2825 1630C2832 1629 2841 1624 2846 1619C2852 1614 2857 1608 2860 1600C2862 1592 2862 1581 2862 1573C2862 1566 2862 1568 2860 1554C2858 1541 2854 1512 2852 1493C2850 1474 2846 1454 2846 1439C2847 1425 2851 1416 2857 1407C2863 1398 2879 1389 2884 1386 M2463 1522C2458 1527 2439 1542 2429 1549C2418 1557 2410 1563 2402 1568C2394 1573 2385 1577 2380 1581C2376 1585 2379 1589 2375 1592C2371 1595 2363 1594 2359 1597C2354 1601 2351 1608 2348 1613C2345 1619 2343 1628 2340 1632C2337 1636 2333 1639 2330 1639C2326 1638 2321 1633 2319 1627C2316 1621 2316 1608 2313 1603C2311 1597 2311 1594 2305 1592C2300 1590 2287 1591 2279 1592C2270 1593 2260 1592 2254 1597C2249 1602 2248 1613 2244 1621C2240 1630 2234 1641 2230 1648C2226 1655 2222 1658 2220 1664C2217 1670 2222 1681 2217 1683C2212 1685 2198 1678 2188 1675C2177 1672 2165 1670 2155 1667C2146 1664 2137 1664 2129 1659C2121 1654 2114 1645 2107 1638C2100 1630 2092 1621 2086 1616C2079 1611 2076 1607 2070 1605C2063 1604 2055 1603 2048 1605C2041 1608 2033 1613 2027 1619C2021 1624 2016 1634 2013 1638 M1871 1386C1870 1387 1864 1390 1861 1393C1858 1396 1855 1401 1854 1404C1852 1407 1852 1409 1850 1411C1848 1413 1849 1408 1845 1415C1840 1423 1830 1442 1823 1455C1816 1468 1805 1483 1802 1493C1799 1503 1803 1505 1804 1514C1806 1523 1804 1541 1810 1546C1816 1552 1830 1546 1839 1549C1849 1552 1857 1558 1866 1562C1875 1567 1885 1569 1893 1573C1901 1578 1908 1583 1914 1589C1921 1596 1923 1605 1930 1611C1938 1616 1948 1619 1957 1621C1966 1624 1977 1622 1984 1624C1991 1626 1995 1630 2000 1632C2005 1634 2011 1637 2013 1638 M1885 1067C1885 1072 1888 1091 1888 1096C1887 1102 1883 1096 1882 1100C1881 1104 1881 1112 1880 1118C1880 1124 1876 1130 1879 1136C1881 1141 1894 1146 1895 1150C1895 1154 1886 1157 1882 1161C1878 1165 1872 1169 1871 1175C1871 1181 1874 1190 1877 1196C1879 1203 1884 1208 1886 1214C1887 1221 1888 1229 1888 1236C1887 1242 1884 1248 1880 1254C1877 1260 1871 1265 1868 1271C1865 1277 1861 1282 1861 1289C1860 1296 1863 1305 1864 1314C1865 1323 1866 1334 1866 1343C1866 1352 1863 1361 1864 1368C1865 1375 1870 1383 1871 1386 M1871 1386C1876 1386 1888 1388 1896 1388C1905 1388 1914 1387 1921 1386C1929 1385 1937 1384 1943 1382C1949 1380 1953 1375 1957 1371C1961 1368 1963 1361 1968 1359C1973 1357 1979 1357 1986 1357C1992 1357 2000 1360 2007 1361C2014 1362 2023 1365 2029 1364C2035 1363 2039 1358 2043 1354C2047 1349 2051 1342 2054 1336C2057 1329 2059 1321 2061 1314C2062 1307 2065 1301 2064 1293C2064 1285 2061 1276 2059 1268C2057 1260 2056 1252 2054 1246C2051 1240 2045 1236 2045 1232C2045 1228 2049 1224 2054 1221C2058 1218 2065 1217 2071 1214C2078 1212 2086 1208 2093 1205C2100 1203 2107 1201 2114 1199C2122 1198 2132 1197 2139 1197C2146 1197 2152 1198 2157 1200C2162 1202 2166 1206 2168 1211C2170 1215 2170 1223 2170 1229C2169 1234 2163 1239 2164 1243C2165 1247 2170 1252 2175 1254C2180 1255 2187 1255 2193 1254C2199 1252 2205 1247 2211 1245C2217 1242 2222 1240 2229 1239C2235 1238 2245 1238 2250 1239C2255 1241 2256 1247 2259 1250C2262 1253 2263 1256 2268 1257C2272 1258 2280 1256 2286 1257C2291 1258 2296 1261 2300 1264C2304 1268 2306 1273 2307 1279C2308 1285 2305 1298 2307 1300C2309 1302 2316 1293 2321 1289C2327 1286 2333 1282 2339 1280C2345 1279 2351 1279 2357 1279C2364 1278 2373 1277 2379 1278C2385 1278 2390 1278 2393 1282C2396 1286 2396 1296 2398 1300C2401 1304 2402 1307 2407 1309C2412 1311 2422 1312 2429 1312C2435 1313 2443 1314 2446 1314" fill="none" stroke="#b3bcbe" stroke-width="3.7" stroke-linejoin="round" stroke-linecap="round"/>
</g>
<g fill="none" stroke="#7cc746" stroke-width="6.2">
<path d="M2522 985V1064H2339V1473"/>
<path d="M3243 1200V1367H3027V1526"/>
<path d="M2840 2617V2701H2964V2787"/>
</g>
<path d="M1652 2904V2891H2155" fill="none" stroke="#7cc746" stroke-width="5"/>
<g fill="#205a68" stroke="#ccd4d6" stroke-width="4.5">
<ellipse cx="2096" cy="1051" rx="41" ry="41"/>
<ellipse cx="1707" cy="1244" rx="41" ry="41"/>
<ellipse cx="2116" cy="1314" rx="41" ry="41"/>
<ellipse cx="2340" cy="1515" rx="37" ry="43"/>
<ellipse cx="2731" cy="1289" rx="41" ry="41"/>
<ellipse cx="749" cy="1430" rx="41" ry="41"/>
<ellipse cx="1169" cy="1649" rx="41" ry="41"/>
<ellipse cx="2463" cy="1760" rx="43" ry="41"/>
<ellipse cx="3023" cy="1566" rx="41" ry="41"/>
<ellipse cx="3233" cy="1588" rx="44" ry="41"/>
<ellipse cx="686" cy="1952" rx="41" ry="41"/>
<ellipse cx="536" cy="2426" rx="41" ry="41"/>
<ellipse cx="1803" cy="2431" rx="43" ry="41"/>
<ellipse cx="3023" cy="2356" rx="41" ry="41"/>
<ellipse cx="2071" cy="2653" rx="43" ry="41"/>
<ellipse cx="2408" cy="2666" rx="43" ry="41"/>
<ellipse cx="2157" cy="2844" rx="40" ry="40"/>
<ellipse cx="2840" cy="2577" rx="43" ry="41"/>
</g>
<g id="labels">
<text transform="translate(312.0 1010.0) scale(1.0707 1)" font-size="78.55" fill="#f2f4f4">Казахстан</text>
<text transform="translate(1908.0 832.0) scale(1.0435 1)" font-size="66.91" fill="#b2bfc3">Петропавловск</text>
<text transform="translate(2730.0 948.0) scale(1.0026 1)" font-size="75.64" fill="#b2bfc3">г. Нур-Султан</text>
<text transform="translate(3176.0 1051.0) scale(1.0268 1)" font-size="72.73" fill="#b2bfc3">Семей</text>
<text transform="translate(1550.0 1352.0) scale(1.0357 1)" font-size="68.36" fill="#b2bfc3">Костанай</text>
<text transform="translate(1970.0 1421.0) scale(1.0852 1)" font-size="65.45" fill="#b2bfc3">Кокшетау</text>
<text transform="translate(599.0 1533.0) scale(1.0454 1)" font-size="68.36" fill="#b2bfc3">Уральск</text>
<text transform="translate(2533.0 1401.0) scale(1.0348 1)" font-size="66.91" fill="#b2bfc3">Павлодар</text>
<text transform="translate(1046.0 1750.0) scale(1.0341 1)" font-size="66.91" fill="#b2bfc3">Актобе</text>
<text transform="translate(2051.0 1778.0) scale(1.0421 1)" font-size="68.36" fill="#b2bfc3">Караганда</text>
<text transform="translate(2879.0 1710.0) scale(1.0536 1)" font-size="66.91" fill="#b2bfc3">Усть-Каменогорск</text>
<text transform="translate(760.0 1970.0) scale(1.0267 1)" font-size="65.45" fill="#b2bfc3">Атырау</text>
<text transform="translate(1405.0 2334.0) scale(1.0508 1)" font-size="66.91" fill="#b2bfc3">Кызылорда</text>
<text transform="translate(2600.0 2258.0) scale(1.0353 1)" font-size="66.91" fill="#b2bfc3">Талдыкорган</text>
<text transform="translate(588.0 2445.0) scale(0.9761 1)" font-size="68.36" fill="#b2bfc3">Актау</text>
<text transform="translate(1878.0 2449.0) scale(1.0520 1)" font-size="66.91" fill="#b2bfc3">Туркестан</text>
<text transform="translate(2297.0 2444.0) scale(1.0586 1)" font-size="66.91" fill="#b2bfc3">Тараз</text>
<text transform="translate(1038.0 2981.0) scale(1.1197 1)" font-size="71.27" fill="#b2bfc3">г. Шымкент</text>
<text transform="translate(3184.0 2870.0) scale(1.0666 1)" font-size="72.73" fill="#b2bfc3">г. Алматы</text>
</g>
<g id="boxes">
<rect x="730" y="929" width="423" height="127" fill="url(#boxg)" stroke="#90d548" stroke-width="5.6" filter="url(#boxsh0)"/>
<g filter="url(#txsh)"><text transform="translate(831.0 1024.6) scale(1.0170 1)" font-size="83.30" fill="#fff" stroke="#2f6977" stroke-width="2" stroke-linejoin="round" font-weight="bold">433,2</text></g>
<rect x="1960" y="875" width="318" height="104" fill="url(#boxg)" stroke="#90d548" stroke-width="5.6" filter="url(#boxsh)"/>
<g filter="url(#txsh)"><text transform="translate(2053.0 949.0) scale(0.9231 1)" font-size="83.15" fill="#fff" stroke="#2f6977" stroke-width="2" stroke-linejoin="round" font-weight="bold">410</text></g>
<rect x="2360" y="883" width="325" height="104" fill="url(#boxg)" stroke="#90d548" stroke-width="5.6" filter="url(#boxsh)"/>
<g filter="url(#txsh)"><text transform="translate(2452.0 956.0) scale(0.9231 1)" font-size="83.15" fill="#fff" stroke="#2f6977" stroke-width="2" stroke-linejoin="round" font-weight="bold">469</text></g>
<rect x="3128" y="1088" width="312" height="114" fill="url(#boxg)" stroke="#90d548" stroke-width="5.6" filter="url(#boxsh)"/>
<g filter="url(#txsh)"><text transform="translate(3215.0 1170.0) scale(0.9231 1)" font-size="83.15" fill="#fff" stroke="#2f6977" stroke-width="2" stroke-linejoin="round" font-weight="bold">448</text></g>
<rect x="1513" y="1383" width="327" height="106" fill="#346e7b" stroke="#90d548" stroke-width="5.6" filter="url(#boxsh)"/>
<g filter="url(#txsh)"><text transform="translate(1607.0 1463.5) scale(0.9166 1)" font-size="82.44" fill="#fff" stroke="#2f6977" stroke-width="2" stroke-linejoin="round" font-weight="bold">436</text></g>
<rect x="1947" y="1459" width="325" height="105" fill="url(#boxg)" stroke="#90d548" stroke-width="5.6" filter="url(#boxsh)"/>
<g filter="url(#txsh)"><text transform="translate(2041.0 1533.5) scale(0.8802 1)" font-size="82.44" fill="#fff" stroke="#2f6977" stroke-width="2" stroke-linejoin="round" font-weight="bold">437</text></g>
<rect x="551" y="1568" width="327" height="108" fill="#346e7b" stroke="#90d548" stroke-width="5.6" filter="url(#boxsh)"/>
<g filter="url(#txsh)"><text transform="translate(646.0 1643.0) scale(0.9173 1)" font-size="81.72" fill="#fff" stroke="#2f6977" stroke-width="2" stroke-linejoin="round" font-weight="bold">415</text></g>
<rect x="2523" y="1445" width="328" height="107" fill="url(#boxg)" stroke="#90d548" stroke-width="5.6" filter="url(#boxsh)"/>
<g filter="url(#txsh)"><text transform="translate(2617.0 1526.0) scale(0.9159 1)" font-size="83.15" fill="#fff" stroke="#2f6977" stroke-width="2" stroke-linejoin="round" font-weight="bold">400</text></g>
<rect x="977" y="1788" width="327" height="114" fill="#346e7b" stroke="#90d548" stroke-width="5.6" filter="url(#boxsh)"/>
<g filter="url(#txsh)"><text transform="translate(1070.0 1869.0) scale(0.9486 1)" font-size="80.29" fill="#fff" stroke="#2f6977" stroke-width="2" stroke-linejoin="round" font-weight="bold">424</text></g>
<rect x="2050" y="1845" width="326" height="111" fill="url(#boxg)" stroke="#90d548" stroke-width="5.6" filter="url(#boxsh)"/>
<g filter="url(#txsh)"><text transform="translate(2144.0 1922.5) scale(0.8948 1)" font-size="82.44" fill="#fff" stroke="#2f6977" stroke-width="2" stroke-linejoin="round" font-weight="bold">380</text></g>
<rect x="3039" y="1755" width="325" height="106" fill="url(#boxg)" stroke="#90d548" stroke-width="5.6" filter="url(#boxsh)"/>
<g filter="url(#txsh)"><text transform="translate(3132.0 1829.0) scale(0.9093 1)" font-size="82.44" fill="#fff" stroke="#2f6977" stroke-width="2" stroke-linejoin="round" font-weight="bold">444</text></g>
<rect x="663" y="2030" width="325" height="105" fill="#346e7b" stroke="#90d548" stroke-width="5.6" filter="url(#boxsh)"/>
<g filter="url(#txsh)"><text transform="translate(756.0 2103.5) scale(0.9093 1)" font-size="82.44" fill="#fff" stroke="#2f6977" stroke-width="2" stroke-linejoin="round" font-weight="bold">454</text></g>
<rect x="1398" y="2394" width="324" height="104" fill="#346e7b" stroke="#90d548" stroke-width="5.6" filter="url(#boxsh)"/>
<g filter="url(#txsh)"><text transform="translate(1490.0 2468.0) scale(0.9312 1)" font-size="82.44" fill="#fff" stroke="#2f6977" stroke-width="2" stroke-linejoin="round" font-weight="bold">409</text></g>
<rect x="2606" y="2290" width="325" height="105" fill="url(#boxg)" stroke="#90d548" stroke-width="5.6" filter="url(#boxsh)"/>
<g filter="url(#txsh)"><text transform="translate(2698.0 2363.5) scale(0.9312 1)" font-size="82.44" fill="#fff" stroke="#2f6977" stroke-width="2" stroke-linejoin="round" font-weight="bold">428</text></g>
<rect x="497" y="2496" width="325" height="105" fill="#346e7b" stroke="#90d548" stroke-width="5.6" filter="url(#boxsh)"/>
<g filter="url(#txsh)"><text transform="translate(590.0 2570.0) scale(0.9393 1)" font-size="81.72" fill="#fff" stroke="#2f6977" stroke-width="2" stroke-linejoin="round" font-weight="bold">488</text></g>
<rect x="1871" y="2476" width="326" height="106" fill="url(#boxg)" stroke="#90d548" stroke-width="5.6" filter="url(#boxsh)"/>
<g filter="url(#txsh)"><text transform="translate(1965.0 2548.0) scale(0.9320 1)" font-size="81.72" fill="#fff" stroke="#2f6977" stroke-width="2" stroke-linejoin="round" font-weight="bold">448</text></g>
<rect x="2214" y="2482" width="326" height="106" fill="url(#boxg)" stroke="#90d548" stroke-width="5.6" filter="url(#boxsh)"/>
<g filter="url(#txsh)"><text transform="translate(2307.0 2556.0) scale(0.9320 1)" font-size="81.72" fill="#fff" stroke="#2f6977" stroke-width="2" stroke-linejoin="round" font-weight="bold">422</text></g>
<rect x="1494" y="2903" width="325" height="103" fill="#346e7b" stroke="#90d548" stroke-width="5.6" filter="url(#boxsh)"/>
<g filter="url(#txsh)"><text transform="translate(1585.0 2976.0) scale(0.9312 1)" font-size="82.44" fill="#fff" stroke="#2f6977" stroke-width="2" stroke-linejoin="round" font-weight="bold">430</text></g>
<rect x="2806" y="2785" width="317" height="104" fill="url(#boxg)" stroke="#90d548" stroke-width="5.6" filter="url(#boxsh)"/>
<g filter="url(#txsh)"><text transform="translate(2899.0 2858.0) scale(0.9246 1)" font-size="81.72" fill="#fff" stroke="#2f6977" stroke-width="2" stroke-linejoin="round" font-weight="bold">436</text></g>
</g>
</g>
<g id="chart" filter="url(#soft)">
<g filter="url(#txsh)">
<text transform="translate(235.6 3358.0) scale(1.0343 1)" font-size="77.67" fill="#fff" stroke="#215b69" stroke-width="0.8" stroke-linejoin="round" font-weight="bold">Индекс</text>
<text transform="translate(550.6 3358.0) scale(1.0358 1)" font-size="77.67" fill="#fff" stroke="#215b69" stroke-width="0.8" stroke-linejoin="round" font-weight="bold">цен</text>
<text transform="translate(718.6 3358.0) scale(0.9572 1)" font-size="77.67" fill="#fff" stroke="#215b69" stroke-width="0.8" stroke-linejoin="round" font-weight="bold">на</text>
<text transform="translate(834.6 3358.0) scale(0.9805 1)" font-size="77.67" fill="#fff" stroke="#215b69" stroke-width="0.8" stroke-linejoin="round" font-weight="bold">продовольственные</text>
<text transform="translate(1669.6 3358.0) scale(0.9536 1)" font-size="77.67" fill="#fff" stroke="#215b69" stroke-width="0.8" stroke-linejoin="round" font-weight="bold">товары</text>
<rect x="1993" y="3304" width="12" height="70" fill="url(#bar2)"/>
<text transform="translate(2037.0 3358.0) scale(0.8526 1)" font-size="77.09" fill="#fff">в</text>
<text transform="translate(2094.0 3358.0) scale(0.7725 1)" font-size="77.09" fill="#fff">%</text>
<text transform="translate(2176.0 3358.0) scale(1.0553 1)" font-size="77.09" fill="#fff">к</text>
<text transform="translate(2230.0 3358.0) scale(1.0184 1)" font-size="77.09" fill="#fff">предыдущему</text>
<text transform="translate(2766.0 3358.0) scale(1.0391 1)" font-size="77.09" fill="#fff">году</text>
</g>
<line x1="244" y1="3549" x2="3586" y2="3549" stroke="#3b93ab" stroke-width="6" stroke-dasharray="29 19.2"/>
<line x1="244" y1="3728" x2="3586" y2="3728" stroke="#3b93ab" stroke-width="6" stroke-dasharray="29 19.2"/>
<line x1="244" y1="3898" x2="3586" y2="3898" stroke="#3b93ab" stroke-width="6" stroke-dasharray="29 19.2"/>
<line x1="244" y1="4078" x2="3586" y2="4078" stroke="#3b93ab" stroke-width="6" stroke-dasharray="29 19.2"/>
<g clip-path="url(#barclip)">
<rect x="413" y="3833" width="227" height="437" fill="#92d050" filter="url(#barsh)"/>
<rect x="969" y="3792" width="227" height="478" fill="#92d050" filter="url(#barsh)"/>
<rect x="1524.5" y="3662" width="221.5" height="608" fill="#92d050" filter="url(#barsh)"/>
<rect x="2081" y="3827" width="222" height="443" fill="#92d050" filter="url(#barsh)"/>
<rect x="2637.5" y="3820" width="221.5" height="450" fill="#92d050" filter="url(#barsh)"/>
<rect x="3194.5" y="3785" width="221" height="485" fill="#92d050" filter="url(#barsh)"/>
</g>
<text transform="translate(454.3 3949.0) scale(0.9610 1)" font-size="75.56" fill="#0d1400" stroke="#0d1400" stroke-width="2.6" stroke-linejoin="round">94,7</text>
<text transform="translate(994.3 3906.0) scale(0.9435 1)" font-size="75.56" fill="#0d1400" stroke="#0d1400" stroke-width="2.6" stroke-linejoin="round">104,6</text>
<text transform="translate(1552.3 3778.5) scale(0.9382 1)" font-size="75.56" fill="#0d1400" stroke="#0d1400" stroke-width="2.6" stroke-linejoin="round">134,2</text>
<text transform="translate(2124.3 3942.0) scale(0.9610 1)" font-size="75.56" fill="#0d1400" stroke="#0d1400" stroke-width="2.6" stroke-linejoin="round">96,2</text>
<text transform="translate(2679.3 3935.0) scale(0.9542 1)" font-size="75.56" fill="#0d1400" stroke="#0d1400" stroke-width="2.6" stroke-linejoin="round">98,5</text>
<text transform="translate(3219.3 3900.0) scale(0.9277 1)" font-size="75.56" fill="#0d1400" stroke="#0d1400" stroke-width="2.6" stroke-linejoin="round">106,3</text>
<rect x="242" y="4251" width="3344" height="8" fill="#e2e6e6"/>
<g filter="url(#txsh)">
<text transform="translate(458.0 4369.0) scale(0.9470 1)" font-size="68.82" fill="#fff">2014</text>
<text transform="translate(1014.0 4369.0) scale(0.9404 1)" font-size="68.82" fill="#fff">2015</text>
<text transform="translate(1563.0 4369.0) scale(0.9666 1)" font-size="68.82" fill="#fff">2016</text>
<text transform="translate(2120.0 4369.0) scale(0.9470 1)" font-size="68.82" fill="#fff">2017</text>
<text transform="translate(2676.0 4369.0) scale(0.9666 1)" font-size="68.82" fill="#fff">2018</text>
<text transform="translate(3219.0 4369.0) scale(0.9404 1)" font-size="68.82" fill="#fff">2019</text>
<text transform="translate(3374.0 4358.0) scale(1.1899 1)" font-size="58.18" fill="#fff" font-weight="bold">*</text>
<text transform="translate(242.0 4630.0) scale(1.0792 1)" font-size="58.18" fill="#fff" font-weight="bold" font-style="italic">*</text>
<text transform="translate(289.8 4644.0) scale(1.0173 1)" font-size="68.82" fill="#fff" font-style="italic">январь–декабрь</text>
<text transform="translate(835.5 4644.0) scale(0.9802 1)" font-size="68.82" fill="#fff" font-style="italic">2019-го</text>
<text transform="translate(1090.0 4644.0) scale(0.8345 1)" font-size="68.82" fill="#fff" font-style="italic">к</text>
<text transform="translate(1136.7 4644.0) scale(1.0016 1)" font-size="68.82" fill="#fff" font-style="italic">январю–декабрю</text>
<text transform="translate(1705.5 4644.0) scale(0.9681 1)" font-size="68.82" fill="#fff" font-style="italic">2018-го</text>
</g>
</g>
<g id="foot" filter="url(#soft)">
<text transform="translate(111.0 4953.0) scale(0.9178 1)" font-size="80.00" fill="#9fd93c" font-style="italic">Источник: КС МНЭ РК</text>
<g id="logo" fill="#fff">
<path d="M3266 4907 C3268 4893 3272 4884 3282 4881 C3305 4877 3330 4881 3355 4878 L3348 4904 C3322 4909 3295 4904 3266 4907 Z"/>
<path d="M3257 4940 C3259 4926 3262 4915 3270 4911 C3295 4907 3320 4911 3346 4908 L3340 4935 C3312 4941 3285 4936 3257 4940 Z"/>
<path d="M3250 4980 C3252 4962 3254 4949 3262 4944 C3288 4940 3314 4945 3340 4942 L3334 4970 C3306 4976 3280 4970 3258 4974 Z"/>
<text transform="translate(3363.0 4969.0) scale(0.9252 1)" font-size="77.09" fill="#fff" font-weight="bold" font-style="italic">Energy</text>
<text transform="translate(3614.0 4969.0) scale(0.9335 1)" font-size="77.09" fill="#e8eeee" font-style="italic">Prom</text>
</g>
</g>
</svg></body></html>
